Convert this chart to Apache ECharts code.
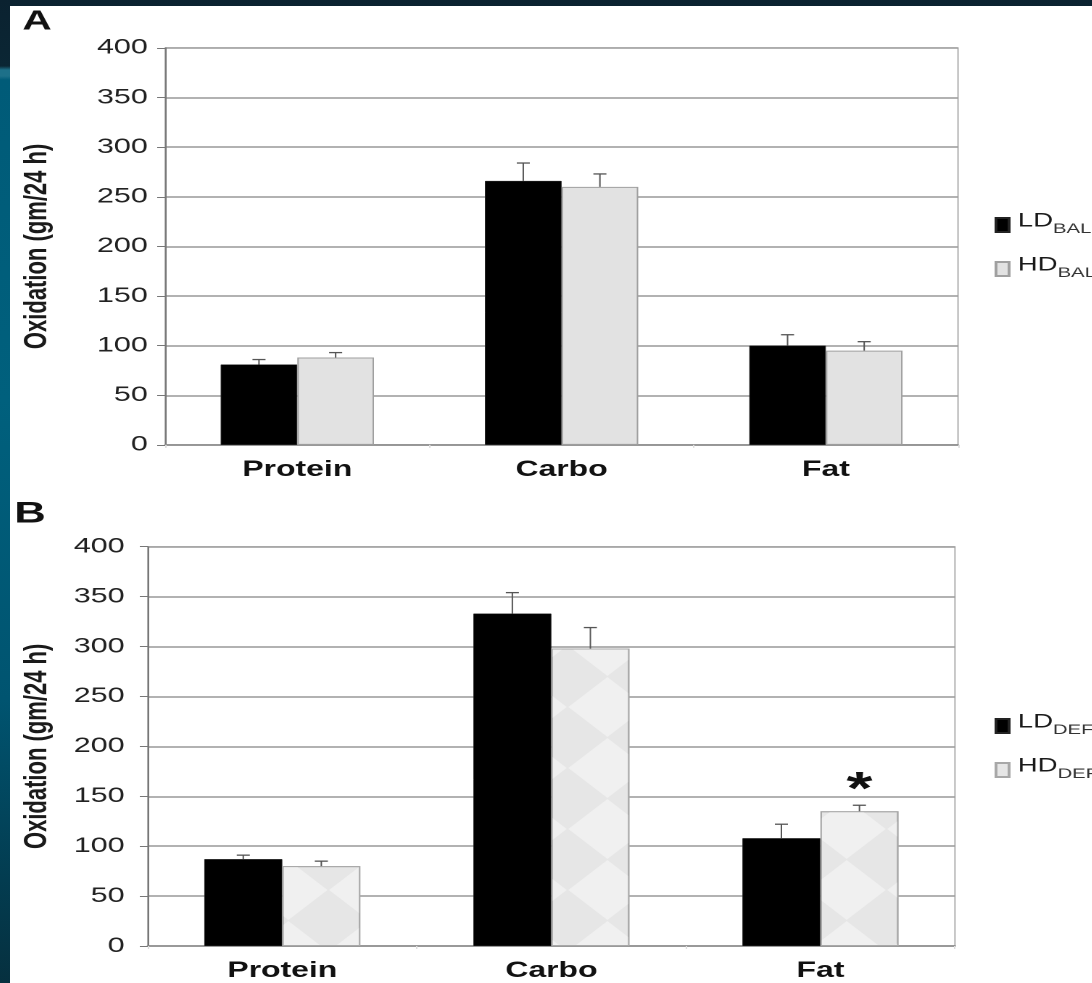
<!DOCTYPE html>
<html>
<head>
<meta charset="utf-8">
<script src="https://cdn.jsdelivr.net/npm/echarts@6/dist/echarts.min.js"></script>
<style>
  html, body { margin: 0; padding: 0; }
  body {
    width: 1092px; height: 983px; overflow: hidden; position: relative;
    background: linear-gradient(to bottom, #0b2230 0px, #0b2634 66px, #1d7089 70px, #1d7089 76px,
      #005b78 80px, #00607d 400px, #005470 700px, #033c50 880px, #06303f 983px);
  }
  #sheet { position: absolute; left: 10px; top: 6px; width: 1082px; height: 977px; background: #fff; overflow: hidden; }
  /* the figure is laid out narrow and widened horizontally */
  #chart { position: absolute; left: 0; top: 0; width: 746px; height: 977px; transform: scaleX(1.45); transform-origin: 0 0; }
</style>
</head>
<body>
<div id="sheet"><div id="chart"></div></div>
<script>
// Macronutrient oxidation, gm/24 h
const categories = ['Protein', 'Carbo', 'Fat'];

// Panel A: energy balance
const ldBal = [81, 266, 100];
const ldBalErr = [5, 18, 11];
const hdBal = [88, 260, 95];
const hdBalErr = [5, 13, 9];

// Panel B: energy deficit
const ldDef = [87, 333, 108];
const ldDefErr = [4, 21, 14];
const hdDef = [80, 298, 135];
const hdDefErr = [5, 21, 6];
const hdDefMarks = ['', '', '*'];

const yMin = 0, yMax = 400, yStep = 50;
const yTitle = 'Oxidation (gm/24 h)';

const FONT = 'Arial, "Liberation Sans", Helvetica, sans-serif';
const CAT_GAP = 0.42;

function errorBars(axisIdx, vals, errs, side, marks) {
  return {
    type: 'custom',
    xAxisIndex: axisIdx, yAxisIndex: axisIdx, z: 5, silent: true,
    data: vals.map((v, i) => [i, v, v + errs[i]]),
    renderItem(params, api) {
      const band = api.size([1, 0])[0];
      const dx = side * band * (1 - CAT_GAP) / 4;
      const base = api.coord([api.value(0), api.value(1)]);
      const top = api.coord([api.value(0), api.value(2)]);
      const x = base[0] + dx;
      const children = [
        { type: 'line', shape: { x1: x, y1: base[1], x2: x, y2: top[1] }, style: { stroke: '#555', lineWidth: 1 } },
        { type: 'line', shape: { x1: x - 4.5, y1: top[1], x2: x + 4.5, y2: top[1] }, style: { stroke: '#555', lineWidth: 1.3 } }
      ];
      const mark = marks ? marks[params.dataIndex] : '';
      if (mark) {
        children.push({
          type: 'text', x: x, y: top[1] - 14,
          style: { text: mark, fill: '#111', font: 'bold 46px ' + FONT, align: 'center', verticalAlign: 'middle' }
        });
      }
      return { type: 'group', children };
    }
  };
}

function barSeries(name, axisIdx, vals, style) {
  return {
    name, type: 'bar', xAxisIndex: axisIdx, yAxisIndex: axisIdx,
    data: vals, barGap: '0%', barCategoryGap: (CAT_GAP * 100) + '%',
    itemStyle: style, emphasis: { disabled: true }
  };
}

function yAxisFor(gridIndex, nameGap, labelMargin) {
  return {
    type: 'value', gridIndex, min: yMin, max: yMax, interval: yStep,
    name: yTitle, nameLocation: 'middle', nameRotate: 90, nameGap,
    nameTextStyle: { fontFamily: FONT, fontWeight: 'bold', fontSize: 22, color: '#1a1a1a' },
    axisLine: { show: true, lineStyle: { color: '#777', width: 1 } },
    axisTick: { show: true, length: 5.5, lineStyle: { color: '#777', width: 1 } },
    axisLabel: { fontFamily: FONT, fontSize: 21, color: '#222', margin: labelMargin, padding: [0, 0, 8, 0] },
    splitLine: { show: true, lineStyle: { color: '#999', width: 1.5 } }
  };
}

function xAxisFor(gridIndex) {
  return {
    type: 'category', gridIndex, data: categories,
    axisLine: { lineStyle: { color: '#888', width: 1.5 } },
    axisTick: { show: true, length: 3, lineStyle: { color: '#ddd' } },
    axisLabel: { fontFamily: FONT, fontWeight: 'bold', fontSize: 22, color: '#111', margin: 14 }
  };
}

function legendFor(names, top) {
  return {
    data: names, orient: 'vertical', left: 674, top, itemGap: 17,
    icon: 'rect', itemWidth: 9, itemHeight: 14, selectedMode: false,
    formatter: n => '{m|' + n.split(' ')[0] + '}{s|' + n.split(' ')[1] + '}',
    textStyle: {
      rich: {
        m: { fontFamily: FONT, fontSize: 19, color: '#1a1a1a', lineHeight: 22, padding: [3, 0, 5, 1], verticalAlign: 'bottom' },
        s: { fontFamily: FONT, fontSize: 14, color: '#333', lineHeight: 14, verticalAlign: 'bottom' }
      }
    }
  };
}

const ldStyle = { color: '#000', borderColor: '#222', borderWidth: 0.5 };
const hdBalStyle = { color: '#e2e2e2', borderColor: '#a0a0a0', borderWidth: 1 };
const hdDefStyle = {
  color: '#e6e6e6', borderColor: '#a8a8a8', borderWidth: 1,
  decal: { symbol: 'diamond', symbolSize: 1, color: '#f0f0f0', dashArrayX: [54, 1], dashArrayY: [60, 1] }
};

const chart = echarts.init(document.getElementById('chart'), null, { renderer: 'canvas', devicePixelRatio: 2 });
chart.setOption({
  animation: false,
  backgroundColor: '#fff',
  grid: [
    { left: 104.8, top: 41.9, width: 549, height: 397, show: true, borderColor: '#b0b0b0', borderWidth: 1 },
    { left: 89.7, top: 540.7, width: 562, height: 399.3, show: true, borderColor: '#b0b0b0', borderWidth: 1 }
  ],
  xAxis: [xAxisFor(0), xAxisFor(1)],
  yAxis: [yAxisFor(0, 77, 12), yAxisFor(1, 65, 16)],
  legend: [legendFor(['LD BAL', 'HD BAL'], 198), legendFor(['LD DEF', 'HD DEF'], 699)],
  graphic: [
    { type: 'text', x: 18.6, y: 16, style: { text: 'A', font: 'bold 28px ' + FONT, fill: '#111', align: 'center', verticalAlign: 'middle' } },
    { type: 'text', x: 13.8, y: 508, style: { text: 'B', font: 'bold 30px ' + FONT, fill: '#111', align: 'center', verticalAlign: 'middle' } }
  ],
  series: [
    barSeries('LD BAL', 0, ldBal, ldStyle),
    barSeries('HD BAL', 0, hdBal, hdBalStyle),
    errorBars(0, ldBal, ldBalErr, -1),
    errorBars(0, hdBal, hdBalErr, 1),
    barSeries('LD DEF', 1, ldDef, ldStyle),
    barSeries('HD DEF', 1, hdDef, hdDefStyle),
    errorBars(1, ldDef, ldDefErr, -1),
    errorBars(1, hdDef, hdDefErr, 1, hdDefMarks)
  ]
});
</script>
</body>
</html>
